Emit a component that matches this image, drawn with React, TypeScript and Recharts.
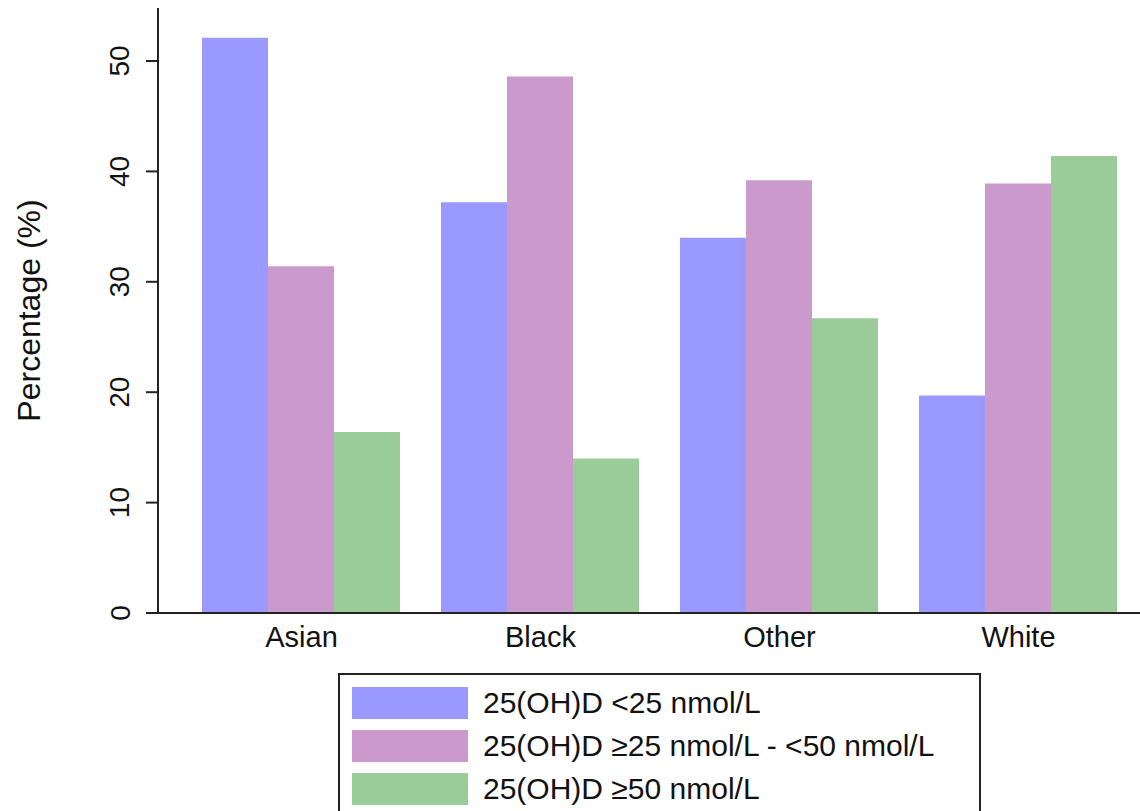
import React from "react"
import { BarChart, Bar, XAxis, YAxis } from "recharts"

const groups = ["Asian", "Black", "Other", "White"]
const below25 = [52.1, 37.2, 34.0, 19.7]
const from25to50 = [31.4, 48.6, 39.2, 38.9]
const above50 = [16.4, 14.0, 26.7, 41.4]
const yTicks = [0, 10, 20, 30, 40, 50]

const seriesNames = [
  "25(OH)D <25 nmol/L",
  "25(OH)D \u226525 nmol/L - <50 nmol/L",
  "25(OH)D \u226550 nmol/L",
]
const seriesColors = ["#9999FF", "#CC99CC", "#99CC99"]
const seriesKeys = ["low", "mid", "high"]

const data = groups.map((g, i) => ({
  group: g,
  low: below25[i],
  mid: from25to50[i],
  high: above50[i],
}))

const font = "'Liberation Sans', Arial, sans-serif"

function YTick(props: any) {
  const { x, y, payload } = props
  return (
    <text
      x={x - 24}
      y={y}
      transform={`rotate(-90 ${x - 24} ${y})`}
      textAnchor="middle"
      dominantBaseline="central"
      fontSize={28}
      fontFamily={font}
      fill="#111"
    >
      {payload.value}
    </text>
  )
}

function XTick(props: any) {
  const { x, y, payload } = props
  return (
    <text x={x} y={y + 26} textAnchor="middle" fontSize={29} fontFamily={font} fill="#111">
      {payload.value}
    </text>
  )
}

export default function App() {
  return (
    <div style={{ position: "absolute", left: 0, top: 0, width: 1140, height: 811, background: "#fff" }}>
      <BarChart
        width={1140}
        height={811}
        data={data}
        margin={{ top: 8, right: 0, left: 0, bottom: 0 }}
        barCategoryGap={20}
        barGap={0}
      >
        <XAxis
          dataKey="group"
          height={198}
          tickLine={false}
          axisLine={{ stroke: "#222", strokeWidth: 2 }}
          padding={{ left: 24, right: 2 }}
          tick={<XTick />}
        />
        <YAxis
          width={158}
          domain={[0, 54.8]}
          ticks={yTicks}
          allowDataOverflow
          tickSize={12}
          tickLine={{ stroke: "#222", strokeWidth: 2 }}
          axisLine={{ stroke: "#222", strokeWidth: 2 }}
          tick={<YTick />}
          label={{
            value: "Percentage (%)",
            angle: -90,
            position: "insideLeft",
            dx: 24,
            style: { fontSize: 32, fontFamily: font, fill: "#111", textAnchor: "middle" },
          }}
        />
        {seriesKeys.map((k, i) => (
          <Bar key={k} dataKey={k} fill={seriesColors[i]} isAnimationActive={false} />
        ))}
      </BarChart>
      <div
        style={{
          position: "absolute",
          left: 338,
          top: 673,
          width: 643,
          height: 140,
          border: "2px solid #222",
          boxSizing: "border-box",
          fontFamily: font,
          fontSize: 30,
          color: "#111",
          paddingTop: 6,
        }}
      >
        {seriesNames.map((n, i) => (
          <div key={n} style={{ display: "flex", alignItems: "center", height: 43 }}>
            <div style={{ marginLeft: 12, width: 116, height: 32, background: seriesColors[i] }} />
            <span style={{ marginLeft: 15, whiteSpace: "nowrap" }}>{n}</span>
          </div>
        ))}
      </div>
    </div>
  )
}
